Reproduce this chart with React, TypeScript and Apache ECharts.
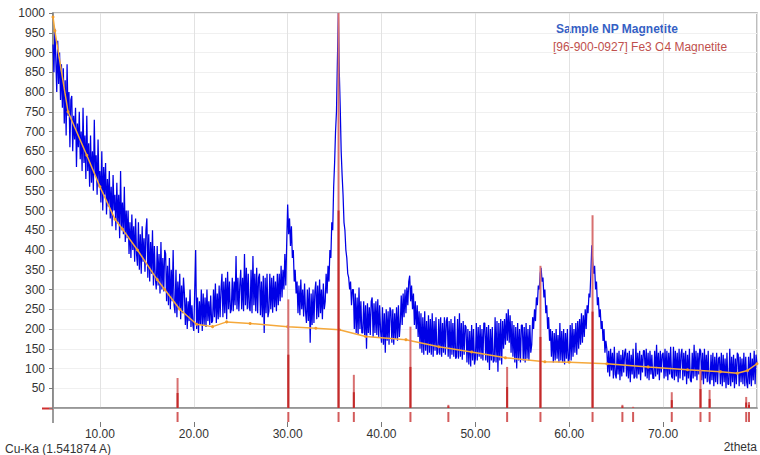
import React, { useEffect, useRef } from 'react';
import * as echarts from 'echarts';

// XRD scan: 2theta from 5.0 in steps of 0.1 degrees
const scanStart = 5;
const scanStep = 0.1;
const intensity = [
  920, 850, 960, 880, 800, 930, 820, 900, 780, 870, // 5
  760, 860, 720, 830, 690, 870, 740, 800, 660, 780, // 6
  790, 650, 740, 680, 760, 610, 720, 660, 750, 630, // 7
  700, 600, 760, 620, 690, 580, 740, 600, 670, 560, // 8
  690, 570, 650, 550, 730, 590, 640, 540, 680, 560, // 9
  600, 520, 650, 500, 610, 540, 620, 490, 580, 510, // 10
  600, 480, 560, 460, 590, 500, 540, 450, 570, 470, // 11
  540, 430, 600, 450, 520, 440, 560, 420, 500, 430, // 12
  500, 390, 470, 380, 490, 400, 460, 370, 480, 390, // 13
  360, 470, 350, 440, 340, 460, 370, 430, 345, 450, // 14
  480, 330, 440, 320, 420, 340, 450, 310, 410, 330, // 15
  300, 410, 310, 390, 290, 420, 300, 380, 295, 400, // 16
  390, 270, 360, 260, 380, 250, 350, 270, 400, 260, // 17
  240, 350, 230, 320, 250, 340, 225, 310, 240, 330, // 18
  290, 210, 280, 200, 270, 220, 300, 205, 260, 210, // 19
  195, 300, 400, 200, 280, 190, 270, 210, 300, 195, // 20
  290, 210, 280, 205, 300, 220, 270, 210, 285, 215, // 21
  220, 300, 230, 315, 215, 290, 225, 310, 230, 300, // 22
  340, 230, 320, 240, 330, 225, 345, 250, 320, 240, // 23
  250, 330, 245, 320, 260, 385, 250, 330, 245, 310, // 24
  350, 250, 330, 245, 390, 260, 355, 250, 340, 255, // 25
  245, 350, 240, 385, 260, 340, 245, 355, 240, 330, // 26
  340, 235, 320, 230, 335, 190, 330, 240, 340, 230, // 27
  245, 340, 250, 330, 241, 335, 255, 320, 245, 340, // 28
  260, 340, 270, 360, 280, 350, 300, 390, 310, 420, // 29
  515, 440, 480, 410, 460, 380, 400, 320, 350, 290, // 30
  320, 240, 310, 235, 325, 250, 300, 232, 315, 245, // 31
  215, 300, 220, 305, 165, 290, 210, 300, 215, 295, // 32
  320, 225, 310, 230, 325, 240, 300, 225, 315, 250, // 33
  270, 340, 290, 360, 320, 400, 380, 470, 450, 560, // 34
  620, 700, 750, 880, 1000, 850, 760, 650, 590, 540, // 35
  470, 450, 400, 380, 340, 330, 300, 320, 260, 300, // 36
  300, 200, 290, 190, 280, 185, 305, 200, 270, 190, // 37
  190, 270, 185, 260, 150, 265, 190, 255, 185, 270, // 38
  280, 180, 265, 190, 270, 185, 275, 180, 260, 195, // 39
  165, 255, 160, 240, 140, 250, 170, 245, 160, 255, // 40
  245, 165, 250, 160, 240, 175, 255, 170, 260, 180, // 41
  215, 285, 210, 290, 230, 300, 240, 305, 260, 320, // 42
  335, 270, 310, 250, 290, 210, 270, 200, 260, 180, // 43
  245, 150, 240, 140, 230, 135, 245, 145, 220, 135, // 44
  235, 140, 225, 135, 240, 130, 220, 145, 230, 135, // 45
  140, 225, 135, 230, 130, 215, 140, 230, 135, 220, // 46
  230, 130, 220, 125, 225, 135, 215, 130, 232, 125, // 47
  130, 225, 125, 240, 130, 215, 122, 220, 135, 210, // 48
  205, 115, 200, 110, 195, 105, 210, 120, 200, 110, // 49
  125, 215, 120, 205, 130, 210, 125, 200, 120, 215, // 50
  215, 120, 205, 115, 210, 96, 200, 120, 205, 115, // 51
  120, 230, 115, 220, 92, 215, 120, 225, 110, 220, // 52
  150, 225, 160, 240, 170, 250, 165, 235, 140, 220, // 53
  130, 210, 115, 205, 100, 215, 120, 200, 115, 210, // 54
  210, 120, 205, 115, 215, 125, 200, 120, 210, 140, // 55
  160, 230, 200, 250, 220, 280, 260, 310, 300, 340, // 56
  355, 320, 330, 280, 300, 240, 260, 200, 230, 170, // 57
  200, 130, 195, 115, 190, 120, 200, 125, 185, 115, // 58
  215, 120, 195, 115, 200, 110, 190, 125, 200, 115, // 59
  125, 210, 120, 215, 130, 200, 140, 215, 135, 220, // 60
  150, 225, 160, 240, 165, 235, 180, 250, 200, 260, // 61
  240, 290, 280, 340, 412, 370, 340, 360, 300, 320, // 62
  260, 280, 230, 250, 200, 220, 170, 200, 140, 170, // 63
  150, 90, 145, 80, 150, 95, 140, 75, 155, 85, // 64
  75, 140, 85, 145, 70, 135, 80, 147, 90, 140, // 65
  150, 80, 140, 75, 145, 65, 135, 85, 150, 75, // 66
  80, 165, 75, 140, 85, 145, 70, 135, 90, 145, // 67
  145, 80, 150, 75, 140, 70, 145, 85, 135, 75, // 68
  75, 145, 80, 160, 85, 140, 70, 145, 90, 135, // 69
  140, 75, 150, 80, 145, 70, 140, 85, 155, 80, // 70
  75, 155, 70, 145, 80, 140, 65, 150, 75, 135, // 71
  150, 70, 140, 80, 145, 60, 135, 75, 150, 70, // 72
  65, 140, 75, 160, 80, 145, 70, 140, 85, 150, // 73
  145, 70, 140, 60, 150, 75, 135, 65, 145, 70, // 74
  60, 135, 70, 140, 55, 130, 65, 140, 60, 125, // 75
  130, 60, 140, 55, 135, 65, 125, 50, 140, 60, // 76
  60, 150, 55, 130, 65, 135, 50, 125, 60, 140, // 77
  135, 55, 130, 65, 125, 60, 140, 55, 130, 65, // 78
  50, 130, 60, 140, 55, 125, 70, 145, 60, 135, // 79
  110, // 80
];

// fitted background (orange), [2theta, counts]
const backgroundTheta = [5, 5.2, 6.6, 8.6, 10, 11.6, 12.4, 14, 16.1, 16.9, 18.5, 20.3, 22, 23.5, 26, 30, 33, 35.5, 38.3, 42.6, 46.1, 49.6, 53.2, 57.4, 60, 64, 68.4, 72.6, 76.1, 77.9, 79, 80];
const backgroundCounts = [990, 955, 750, 640, 560, 478, 453, 400, 325, 300, 250, 212, 206, 218, 214, 206, 202, 198, 181, 173, 155, 142, 127, 117, 116, 112, 104, 97, 92, 88, 95, 112];

// reference pattern [96-900-0927] Fe3 O4 Magnetite
const refPositions = [18.27, 30.07, 35.42, 37.05, 43.08, 47.12, 53.38, 56.93, 62.48, 65.66, 66.8, 70.92, 73.98, 74.95, 78.85, 79.15];
const refIntensity = [76, 275, 1000, 84, 206, 8, 104, 360, 488, 8, 3, 40, 97, 46, 28, 15];
const refIntensityK2 = [38, 135, 500, 40, 104, 4, 53, 180, 244, 4, 1, 20, 48, 23, 14, 8];

const xTickValues = [10, 20, 30, 40, 50, 60, 70];
const yTickLabels = [50, 100, 150, 200, 250, 300, 350, 400, 450, 500, 550, 600, 650, 700, 750, 800, 850, 900, 950, 1000];

const FONT = '"Liberation Sans", Arial, sans-serif';

export default function App() {
  const ref = useRef<HTMLDivElement>(null);
  useEffect(() => {
    if (!ref.current) return;
    const chart = echarts.init(ref.current, undefined, { renderer: 'svg' });
    const scan = intensity.map((v, i) => [+(scanStart + i * scanStep).toFixed(2), v]);
    const bg = backgroundTheta.map((t, i) => [t, backgroundCounts[i]]);
    chart.setOption({
      animation: false,
      backgroundColor: '#ffffff',
      grid: {
        left: 53, right: 3, top: 13, bottom: 47,
        show: true, borderColor: '#a8a8a8', borderWidth: 1.5,
        outerBoundsMode: 'none',
      },
      xAxis: [
        {
          type: 'value', min: 5, max: 80, splitNumber: 8,
          axisLine: { show: true, lineStyle: { color: '#8a8a8a', width: 1.5 } },
          axisTick: { show: false },
          axisLabel: { show: false },
          splitLine: { show: true, lineStyle: { color: '#e2e2e2', width: 1 } },
        },
        {
          type: 'value', min: 5, max: 80, splitNumber: 8, position: 'bottom', offset: 14,
          axisLine: { show: false },
          axisTick: { show: true, length: 5, customValues: xTickValues, lineStyle: { color: '#777' } },
          axisLabel: {
            show: true, customValues: xTickValues, margin: 6, color: '#333',
            fontSize: 12, fontFamily: FONT,
            formatter: (v: number) => v.toFixed(2),
          },
          splitLine: { show: false },
        },
      ],
      yAxis: {
        type: 'value', min: 0, max: 1000, interval: 50,
        axisLine: { show: true, lineStyle: { color: '#7a7a7a', width: 1.5 } },
        axisTick: { show: true, length: 4, lineStyle: { color: '#7a7a7a' } },
        axisLabel: {
          customValues: yTickLabels, margin: 8, color: '#333', fontSize: 12, fontFamily: FONT,
          formatter: (v: number) => String(v),
        },
        splitLine: { show: true, lineStyle: { color: '#f0f0f0', width: 1 } },
      },
      series: [
        {
          name: 'Sample NP Magnetite', type: 'line', data: scan, showSymbol: false,
          lineStyle: { color: '#0000e6', width: 1.25 }, z: 2, silent: true,
        },
        {
          name: 'background', type: 'line', data: bg, symbol: 'circle', symbolSize: 3,
          itemStyle: { color: '#f39c2a' }, lineStyle: { color: '#f5a83a', width: 1.5 }, z: 3, silent: true,
        },
        {
          name: 'ref', type: 'bar', barWidth: 2,
          data: refPositions.map((p, i) => [p, refIntensity[i]]),
          itemStyle: { color: '#d87070' }, z: 4, silent: true,
        },
        {
          name: 'refK2', type: 'bar', barWidth: 2, barGap: '-100%',
          data: refPositions.map((p, i) => [p, refIntensityK2[i]]),
          itemStyle: { color: '#c42a2a' }, z: 5, silent: true,
        },
        {
          name: 'refMarks', type: 'scatter', symbol: 'rect', symbolSize: [2, 10], symbolOffset: [0, 9],
          data: refPositions.map((p) => [p, 0]), clip: false,
          itemStyle: { color: '#c83232' }, z: 5, silent: true,
        },
      ],
      graphic: [
        { type: 'line', shape: { x1: 53, y1: 408, x2: 53, y2: 423 }, style: { stroke: '#7a7a7a', lineWidth: 1.5 } },
        { type: 'line', shape: { x1: 42, y1: 408.5, x2: 53, y2: 408.5 }, style: { stroke: '#d03030', lineWidth: 2 } },
        {
          type: 'text', x: 556, y: 23,
          style: { text: 'Sample NP Magnetite', fill: '#3560c4', fontSize: 12, fontWeight: 'bold', fontFamily: FONT },
        },
        {
          type: 'text', x: 553, y: 41,
          style: { text: '[96-900-0927] Fe3 O4 Magnetite', fill: '#c0504d', fontSize: 12, fontFamily: FONT },
        },
        {
          type: 'text', x: 5, y: 443,
          style: { text: 'Cu-Ka (1.541874 A)', fill: '#333', fontSize: 12, fontFamily: FONT },
        },
        {
          type: 'text', x: 757, y: 441,
          style: { text: '2theta', fill: '#333', fontSize: 12, fontFamily: FONT, align: 'right' },
        },
      ],
    });
    return () => chart.dispose();
  }, []);
  return <div ref={ref} style={{ position: 'fixed', left: 0, top: 0, width: 760, height: 455 }} />;
}
